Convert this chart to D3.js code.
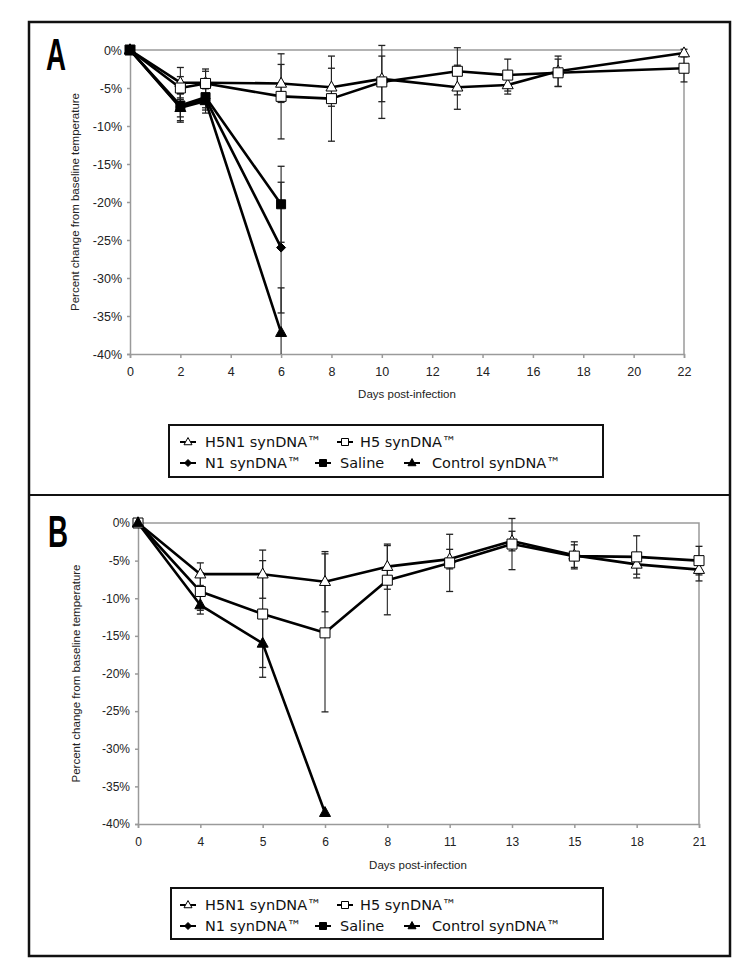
<!DOCTYPE html>
<html><head><meta charset="utf-8">
<script src="https://cdn.jsdelivr.net/npm/d3@7"></script>
<style>body{margin:0;background:#fff}svg{display:block}</style>
</head><body>
<script>
// ---------- DATA ----------
const yTicks = [0, -5, -10, -15, -20, -25, -30, -35, -40];
// Panel A (numeric day axis)
const xTicksA = [0, 2, 4, 6, 8, 10, 12, 14, 16, 18, 20, 22];
const daysA = [0, 2, 3, 6, 8, 10, 13, 15, 17, 22];
const h5n1A = [0, -4.3, -4.3, -4.4, -4.9, -3.8, -4.9, -4.6, -2.8, -0.4];
const h5n1AErr = [0, 2.0, 1.8, 2.5, 2.5, 3.0, 2.9, 1.2, 2.0, 0.5];
const h5A = [0, -5.0, -4.4, -6.1, -6.4, -4.2, -2.8, -3.3, -3.0, -2.4];
const h5AErr = [0, 1.5, 1.6, 5.6, 5.6, 4.8, 3.1, 2.1, 1.8, 1.8];
const daysShortA = [0, 2, 3, 6];
const n1A = [0, -7.5, -6.4, -26.0];
const n1AErr = [0, 1.8, 1.5, 8.6];
const salineA = [0, -7.3, -6.2, -20.3];
const salineAErr = [0, 1.5, 1.4, 5.0];
const controlA = [0, -7.6, -6.7, -37.2];
const controlAErr = [0, 1.9, 1.6, 5.9];
// Panel B (category day axis)
const daysB = ["0", "4", "5", "6", "8", "11", "13", "15", "18", "21"];
const h5n1B = [0, -6.8, -6.8, -7.8, -5.8, -4.8, -2.4, -4.3, -5.5, -6.2];
const h5n1BErr = [0, 1.5, 3.2, 4.0, 3.0, 1.3, 1.3, 1.8, 1.3, 1.5];
const h5B = [0, -9.1, -12.1, -14.6, -7.6, -5.3, -2.8, -4.4, -4.5, -5.0];
const h5BErr = [0, 2.5, 7.1, 10.5, 4.6, 3.8, 3.4, 1.5, 2.8, 1.9];
const daysShortB = ["0", "4", "5", "6"];
const controlB = [0, -10.9, -16.0, -38.5];
const controlBErr = [0, 1.2, 4.5, 0];

const legendNames = ["H5N1 synDNA™", "H5 synDNA™", "N1 synDNA™", "Saline", "Control synDNA™"];
const yTitle = "Percent change from baseline temperature";
const xTitle = "Days post-infection";

// ---------- DRAW ----------
const W = 750, H = 974;
const svg = d3.select("body").append("svg").attr("width", W).attr("height", H);

// outer frame and divider
svg.append("rect").attr("x", 29).attr("y", 22).attr("width", 701).attr("height", 934)
  .attr("fill", "none").attr("stroke", "#111").attr("stroke-width", 2.5);
svg.append("line").attr("x1", 29).attr("x2", 730).attr("y1", 495).attr("y2", 495)
  .attr("stroke", "#111").attr("stroke-width", 2);

function markerPath(type, s) {
  if (type === "tri") {
    const h = s * 0.9;
    return `M0,${-h * 0.62}L${s / 2},${h * 0.38}L${-s / 2},${h * 0.38}Z`;
  }
  if (type === "sq") return `M${-s / 2},${-s / 2}h${s}v${s}h${-s}Z`;
  if (type === "dia") return `M0,${-s / 2}L${s / 2},0L0,${s / 2}L${-s / 2},0Z`;
}

function drawPanel(cfg) {
  const g = svg.append("g");
  const x = cfg.x, y = cfg.y;
  const [x0, x1] = x.range();
  const [y1, y0] = y.range(); // y(-40)=y1 bottom, y(0)=y0 top

  // plot border (top & right)
  g.append("path").attr("d", `M${x0},${y0}H${x1}V${y1}`)
    .attr("fill", "none").attr("stroke", "#9a9a9a").attr("stroke-width", 1.5);

  const ya = g.append("g").attr("transform", `translate(${x0},0)`)
    .call(d3.axisLeft(y).tickValues(yTicks).tickFormat(d => d + "%").tickSize(3).tickPadding(5));
  const xa = g.append("g").attr("transform", `translate(0,${y1})`)
    .call(cfg.xAxis.tickSize(4).tickPadding(9));
  [ya, xa].forEach(a => {
    a.selectAll(".domain,line").attr("stroke", "#9a9a9a").attr("stroke-width", 1.5);
    a.selectAll("text").attr("font-family", "Liberation Sans, Arial, sans-serif")
      .attr("font-size", cfg.tickFont).attr("fill", "#222");
  });

  g.append("text").attr("transform", `translate(${cfg.yTitleX},${(y0 + y1) / 2}) rotate(-90)`)
    .attr("text-anchor", "middle").attr("font-family", "Liberation Sans, Arial, sans-serif")
    .attr("font-size", 11.5).attr("fill", "#222").text(yTitle);
  g.append("text").attr("x", cfg.xTitleX).attr("y", cfg.xTitleY)
    .attr("text-anchor", "middle").attr("font-family", "Liberation Sans, Arial, sans-serif")
    .attr("font-size", 11.5).attr("fill", "#222").text(xTitle);

  // panel letter
  g.append("text").attr("transform", `translate(${cfg.letterX},${cfg.letterY}) scale(0.63,1)`)
    .attr("font-family", "Liberation Sans, Arial, sans-serif").attr("font-weight", "bold")
    .attr("font-size", 44).attr("fill", "#000").text(cfg.letter);

  const yClamp = v => y(Math.max(-40, v));
  // error bars
  cfg.series.forEach(s => {
    s.xs.forEach((d, i) => {
      const e = s.err[i];
      if (!e) return;
      const cx = x(d), v = s.vals[i];
      const top = y(v + e), bot = yClamp(v - e);
      g.append("line").attr("x1", cx).attr("x2", cx).attr("y1", top).attr("y2", bot)
        .attr("stroke", "#222").attr("stroke-width", 1.1);
      g.append("line").attr("x1", cx - 3.5).attr("x2", cx + 3.5).attr("y1", top).attr("y2", top)
        .attr("stroke", "#222").attr("stroke-width", 1.3);
      if (v - e >= -40)
        g.append("line").attr("x1", cx - 3.5).attr("x2", cx + 3.5).attr("y1", bot).attr("y2", bot)
          .attr("stroke", "#222").attr("stroke-width", 1.3);
    });
  });
  // lines
  cfg.series.forEach(s => {
    const line = d3.line().x((d, i) => x(s.xs[i])).y(d => y(d));
    g.append("path").attr("d", line(s.vals)).attr("fill", "none")
      .attr("stroke", "#000").attr("stroke-width", 2.6).attr("stroke-linejoin", "round");
  });
  // markers
  cfg.series.forEach(s => {
    s.vals.forEach((v, i) => {
      g.append("path").attr("d", markerPath(s.type, s.size))
        .attr("transform", `translate(${x(s.xs[i])},${y(v)})`)
        .attr("fill", s.fill).attr("stroke", "#000").attr("stroke-width", 1);
    });
  });

  // legend
  const L = cfg.legend;
  g.append("rect").attr("x", L.x).attr("y", L.y).attr("width", L.w).attr("height", L.h)
    .attr("fill", "#fff").attr("stroke", "#111").attr("stroke-width", 2);
  const items = [
    { t: "tri", f: "#fff", s: 8, cx: 188, row: 0, tx: 205 },
    { t: "sq", f: "#fff", s: 7, cx: 345, row: 0, tx: 360 },
    { t: "dia", f: "#000", s: 7, cx: 188, row: 1, tx: 205 },
    { t: "sq", f: "#000", s: 7, cx: 323, row: 1, tx: 340 },
    { t: "tri", f: "#000", s: 8, cx: 412, row: 1, tx: 432 }
  ];
  items.forEach((it, i) => {
    const ry = L.y + (it.row === 0 ? 17 : 38);
    g.append("line").attr("x1", it.cx - 8).attr("x2", it.cx + 8).attr("y1", ry).attr("y2", ry)
      .attr("stroke", "#000").attr("stroke-width", 2);
    g.append("path").attr("d", markerPath(it.t, it.s)).attr("transform", `translate(${it.cx},${ry})`)
      .attr("fill", it.f).attr("stroke", "#000").attr("stroke-width", 1);
    g.append("text").attr("x", it.tx).attr("y", ry + 5)
      .attr("font-family", "DejaVu Sans, Verdana, sans-serif").attr("font-size", 14.5)
      .attr("fill", "#111").text(legendNames[i]);
  });
}

// Panel A
const xA = d3.scaleLinear().domain([0, 22]).range([130, 684]);
const yA = d3.scaleLinear().domain([-40, 0]).range([354, 50]);
drawPanel({
  x: xA, y: yA, xAxis: d3.axisBottom(xA).tickValues(xTicksA).tickFormat(d3.format("d")),
  tickFont: 12.5, yTitleX: 79, xTitleX: 407, xTitleY: 398,
  letter: "A", letterX: 46, letterY: 70,
  legend: { x: 169, y: 425, w: 434, h: 52 },
  series: [
    { xs: daysA, vals: h5n1A, err: h5n1AErr, type: "tri", fill: "#fff", size: 11 },
    { xs: daysA, vals: h5A, err: h5AErr, type: "sq", fill: "#fff", size: 10 },
    { xs: daysShortA, vals: n1A, err: n1AErr, type: "dia", fill: "#000", size: 9 },
    { xs: daysShortA, vals: salineA, err: salineAErr, type: "sq", fill: "#000", size: 9 },
    { xs: daysShortA, vals: controlA, err: controlAErr, type: "tri", fill: "#000", size: 11 }
  ]
});

// Panel B
const xB = d3.scalePoint().domain(daysB).range([138, 699]).padding(0);
const yB = d3.scaleLinear().domain([-40, 0]).range([824, 523]);
drawPanel({
  x: xB, y: yB, xAxis: d3.axisBottom(xB),
  tickFont: 12, yTitleX: 80, xTitleX: 418, xTitleY: 869,
  letter: "B", letterX: 48, letterY: 547,
  legend: { x: 171, y: 888, w: 432, h: 51 },
  series: [
    { xs: daysB, vals: h5n1B, err: h5n1BErr, type: "tri", fill: "#fff", size: 11 },
    { xs: daysB, vals: h5B, err: h5BErr, type: "sq", fill: "#fff", size: 10 },
    { xs: daysShortB, vals: controlB, err: controlBErr, type: "tri", fill: "#000", size: 11 }
  ]
});
</script>
</body></html>
